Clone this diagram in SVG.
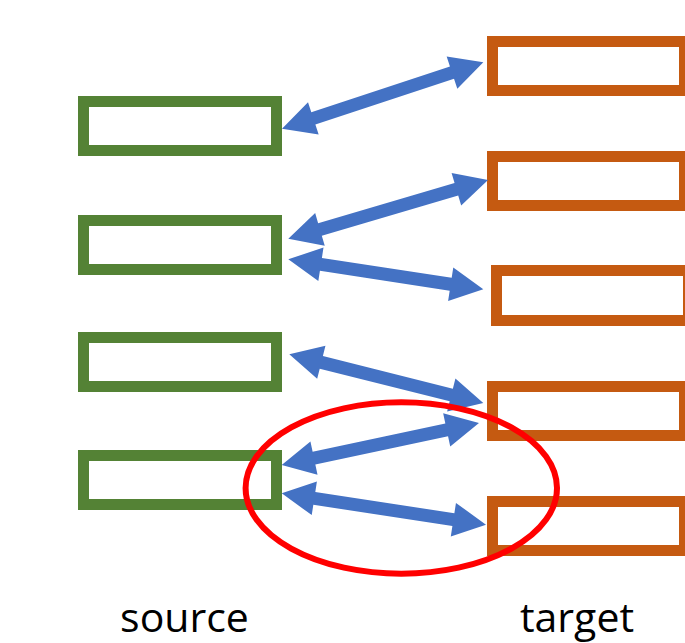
<svg xmlns="http://www.w3.org/2000/svg" width="685" height="643" viewBox="0 0 685 643">
  <style>
    .src { fill: #ffffff; stroke: #548235; stroke-width: 11; }
    .tgt { fill: #ffffff; stroke: #C55A11; stroke-width: 11; }
    .link { fill: #4472C4; }
    .ring { fill: none; stroke: #FF0000; stroke-width: 6; }
    .label { font-family: "Open Sans", "Noto Sans", sans-serif; font-size: 41px; fill: #000000; text-anchor: middle; }
  </style>
  <rect width="685" height="643" fill="#ffffff"/>

  <!-- source column -->
  <g id="source-1"><rect class="src" x="83.5" y="101.5" width="193" height="49"/></g>
  <g id="source-2"><rect class="src" x="83.5" y="220.5" width="193" height="49"/></g>
  <g id="source-3"><rect class="src" x="83.5" y="337.5" width="193" height="49"/></g>
  <g id="source-4"><rect class="src" x="83.5" y="455.5" width="193" height="49"/></g>

  <!-- target column -->
  <g id="target-1"><rect class="tgt" x="492.5" y="41.5" width="192" height="49"/></g>
  <g id="target-2"><rect class="tgt" x="492.5" y="156.5" width="192" height="49"/></g>
  <g id="target-3"><rect class="tgt" x="496.5" y="270.5" width="192" height="50"/></g>
  <g id="target-4"><rect class="tgt" x="492.5" y="386.5" width="192" height="49"/></g>
  <g id="target-5"><rect class="tgt" x="492.5" y="501.5" width="192" height="49"/></g>

  <!-- double-headed links, each drawn along its local x axis -->
  <g id="connectors">
    <path class="link" transform="translate(282,128.7) rotate(-18.26)" d="M0,0 L33,-17 L33,-6.5 L179,-6.5 L179,-17 L212,0 L179,17 L179,6.5 L33,6.5 L33,17 Z"/>
    <path class="link" transform="translate(288.3,238.7) rotate(-16.38)" d="M0,0 L33,-17 L33,-6.5 L175.2,-6.5 L175.2,-17 L208.2,0 L175.2,17 L175.2,6.5 L33,6.5 L33,17 Z"/>
    <path class="link" transform="translate(288.3,259.3) rotate(8.75)" d="M0,0 L33,-17 L33,-6.5 L164.3,-6.5 L164.3,-17 L197.3,0 L164.3,17 L164.3,6.5 L33,6.5 L33,17 Z"/>
    <path class="link" transform="translate(289.3,354.3) rotate(14.09)" d="M0,0 L33,-17 L33,-6.5 L167,-6.5 L167,-17 L200,0 L167,17 L167,6.5 L33,6.5 L33,17 Z"/>
    <path class="link" transform="translate(281.7,465) rotate(-12.02)" d="M0,0 L33,-17 L33,-6.5 L168.7,-6.5 L168.7,-17 L201.7,0 L168.7,17 L168.7,6.5 L33,6.5 L33,17 Z"/>
    <path class="link" transform="translate(281.7,493.3) rotate(8.74)" d="M0,0 L33,-17 L33,-6.5 L173.7,-6.5 L173.7,-17 L206.7,0 L173.7,17 L173.7,6.5 L33,6.5 L33,17 Z"/>
  </g>

  <!-- highlight ring -->
  <g id="highlight">
    <ellipse class="ring" cx="401.3" cy="488" rx="155.7" ry="85.7"/>
  </g>

  <text class="label" x="184.5" y="632">source</text>
  <text class="label" x="577" y="632">target</text>
</svg>
